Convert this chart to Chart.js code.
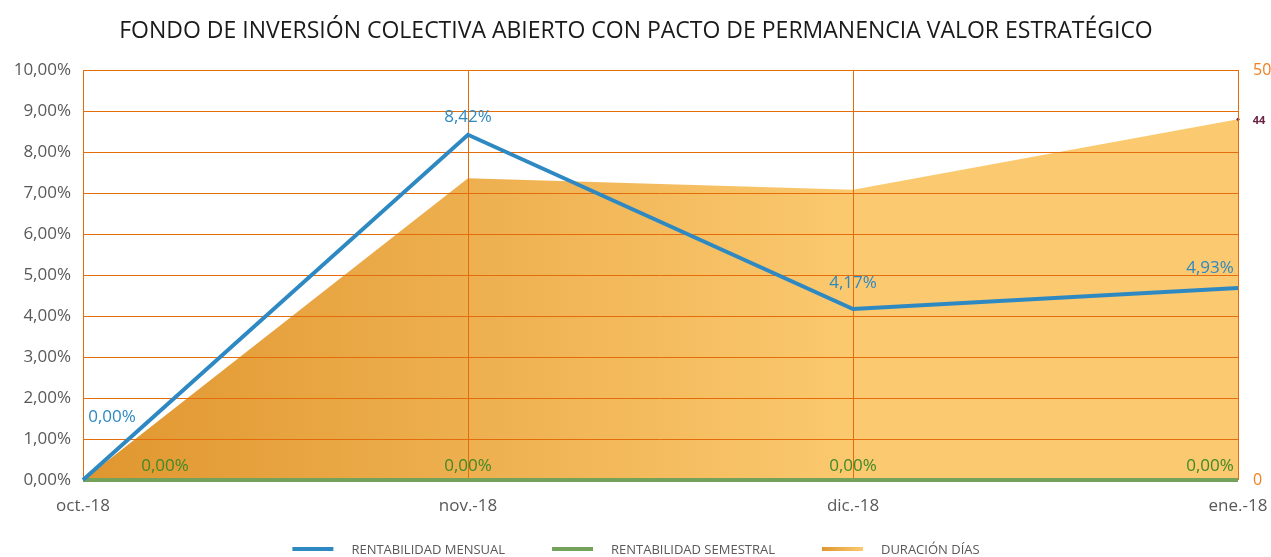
<!DOCTYPE html>
<html>
<head>
<meta charset="utf-8">
<script src="https://cdn.jsdelivr.net/npm/chart.js@4/dist/chart.umd.min.js"></script>
<style>
  body { margin: 0; background: #fff; }
  #wrap { width: 1271px; height: 557px; }
</style>
</head>
<body>
<div id="wrap"><canvas id="myChart" width="1271" height="557"></canvas></div>
<script>
// datos
var meses = ['oct.-18', 'nov.-18', 'dic.-18', 'ene.-18'];
var rentMensual = [0, 8.42, 4.17, 4.68];
var rentMensualTxt = ['0,00%', '8,42%', '4,17%', '4,93%'];
var rentSemestral = [0, 0, 0, 0];
var rentSemestralTxt = ['0,00%', '0,00%', '0,00%', '0,00%'];
var duracionDias = [0, 36.8, 35.4, 44];
var duracionTxt = ['', '', '', '44'];
var titulo = 'FONDO DE INVERSIÓN COLECTIVA ABIERTO CON PACTO DE PERMANENCIA VALOR ESTRATÉGICO';

var FONT = '"Open Sans", "DejaVu Sans", sans-serif';
var gridColor = '#e46c0a';
var legendCols = ['#2e89c3', '#74a25a', '#f0b255'];

// relleno degradado del area
function areaFill(ctx) {
  var chart = ctx.chart;
  var a = chart.chartArea;
  if (!a) return '#f0b255';
  var g = chart.ctx.createLinearGradient(a.left, 0, a.left + (a.right - a.left) * 0.67, 0);
  g.addColorStop(0, '#e0962f');
  g.addColorStop(1, '#fbc96f');
  return g;
}

// etiquetas de datos (no hay plugin datalabels)
const etiquetas = {
  id: 'etiquetas',
  afterDatasetsDraw(chart) {
    const ctx = chart.ctx;
    chart.data.datasets.forEach((ds, i) => {
      if (!ds.lblText) return;
      const meta = chart.getDatasetMeta(i);
      meta.data.forEach((pt, j) => {
        const t = ds.lblText[j];
        if (!t) return;
        const off = ds.lblOffset[j];
        ctx.save();
        ctx.font = ds.lblFont;
        ctx.fillStyle = ds.lblColor;
        ctx.textAlign = 'center';
        ctx.textBaseline = 'middle';
        ctx.fillText(t, pt.x + off[0], pt.y + off[1]);
        ctx.restore();
      });
    });
  }
};

// lineas de grilla encima del area
const grillaArriba = {
  id: 'grillaArriba',
  beforeDatasetDraw(chart, args) {
    if (args.index !== 1) return;
    chart.scales.x.drawGrid(chart.chartArea);
    chart.scales.y.drawGrid(chart.chartArea);
  }
};

// titulo y leyenda dibujados a mano
const tituloPlugin = {
  id: 'tituloPlugin',
  afterDraw(chart) {
    const ctx = chart.ctx;
    ctx.save();
    ctx.font = '23px ' + FONT;
    ctx.fillStyle = '#1a1a1a';
    ctx.textAlign = 'center';
    ctx.textBaseline = 'middle';
    ctx.fillText(titulo, 636, 31);

    // leyenda
    ctx.font = '13px ' + FONT;
    ctx.textAlign = 'left';
    var sw = 41, gap = 18, esp = 47;
    var items = chart.data.datasets.map(function (d, i) {
      return { t: d.label, w: ctx.measureText(d.label).width, c: legendCols[i] };
    });
    var total = 0;
    items.forEach(function (it, i) { total += sw + gap + it.w + (i ? esp : 0); });
    var x = 636 - total / 2, y = 549;
    items.forEach(function (it) {
      var g = it.c;
      if (it.t === 'DURACIÓN DÍAS') {
        g = ctx.createLinearGradient(x, 0, x + sw, 0);
        g.addColorStop(0, '#e0962f');
        g.addColorStop(1, '#fbc96f');
      }
      ctx.fillStyle = g;
      ctx.fillRect(x, y - 2, sw, 4);
      ctx.fillStyle = '#595959';
      ctx.fillText(it.t, x + sw + gap, y + 1);
      x += sw + gap + it.w + esp;
    });
    ctx.restore();
  }
};

const config = {
  type: 'line',
  data: {
    labels: meses,
    datasets: [
      {
        label: 'RENTABILIDAD MENSUAL',
        data: rentMensual,
        borderColor: '#2e89c3',
        backgroundColor: '#2e89c3',
        borderWidth: 4,
        pointRadius: 0,
        clip: 6,
        yAxisID: 'y',
        order: 1,
        lblText: rentMensualTxt,
        lblOffset: [[29, -63], [0, -18], [0, -26], [-28, -20]],
        lblColor: '#2e89c3',
        lblFont: '17px ' + FONT
      },
      {
        label: 'RENTABILIDAD SEMESTRAL',
        data: rentSemestral,
        borderColor: '#74a25a',
        backgroundColor: '#74a25a',
        borderWidth: 4,
        pointRadius: 0,
        clip: 6,
        yAxisID: 'y',
        order: 2,
        lblText: rentSemestralTxt,
        lblOffset: [[82, -14], [0, -14], [0, -14], [-28, -14]],
        lblColor: '#3f8a26',
        lblFont: '17px ' + FONT
      },
      {
        label: 'DURACIÓN DÍAS',
        data: duracionDias,
        borderWidth: 0,
        borderColor: 'rgba(0,0,0,0)',
        backgroundColor: areaFill,
        fill: 'origin',
        tension: 0,
        clip: 6,
        pointRadius: [0, 0, 0, 1.5],
        pointBackgroundColor: '#6b2142',
        pointBorderWidth: 0,
        yAxisID: 'y1',
        order: 3,
        lblText: duracionTxt,
        lblOffset: [[0, 0], [0, 0], [0, 0], [21, 2]],
        lblColor: '#6b2142',
        lblFont: 'bold 11px ' + FONT
      }
    ]
  },
  options: {
    responsive: false,
    animation: false,
    layout: { padding: { top: 70, left: 0, right: 0, bottom: 32 } },
    plugins: {
      title: { display: false },
      tooltip: { enabled: false },
      legend: { display: false }
    },
    scales: {
      x: {
        offset: false,
        grid: { color: gridColor, lineWidth: 1, drawTicks: false },
        border: { display: false },
        ticks: { color: '#595959', font: { size: 17, family: FONT }, padding: 16, maxRotation: 0 },
        afterFit: function (s) { s.height = 45; s.paddingLeft = 0; s.paddingRight = 0; }
      },
      y: {
        position: 'left',
        min: 0,
        max: 10,
        grid: { color: gridColor, lineWidth: 1, drawTicks: false },
        border: { display: false },
        ticks: {
          stepSize: 1,
          color: '#595959',
          padding: 12,
          font: { size: 17, family: FONT },
          callback: function (v) { return v.toFixed(2).replace('.', ',') + '%'; }
        },
        afterFit: function (s) { s.width = 83; s.paddingTop = 0; s.paddingBottom = 0; }
      },
      y1: {
        position: 'right',
        min: 0,
        max: 50,
        grid: { display: false, drawTicks: false },
        border: { display: false },
        ticks: {
          stepSize: 50,
          color: '#f07f1f',
          padding: 15,
          font: { size: 16, family: FONT }
        },
        afterFit: function (s) { s.width = 33; s.paddingTop = 0; s.paddingBottom = 0; }
      }
    }
  },
  plugins: [etiquetas, grillaArriba, tituloPlugin]
};

var myChart = new Chart(document.getElementById('myChart'), config);
</script>
</body>
</html>
